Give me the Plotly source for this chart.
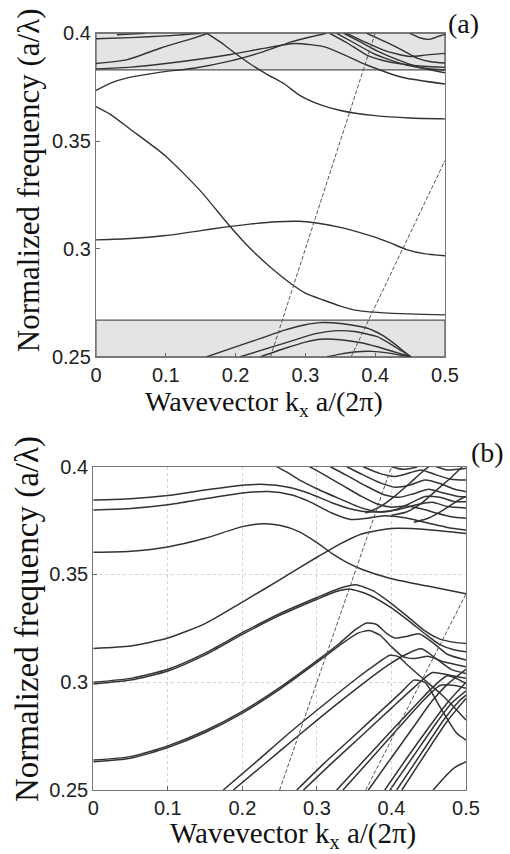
import plotly.graph_objects as go

# ---------------- Panel (a) data: normalized frequency vs wavevector ----------------
a_upper_band = [0.383, 0.400]   # shaded continuum (upper)
a_lower_band = [0.250, 0.267]   # shaded continuum (lower)

light_k = [0.25, 0.40]
light_f = [0.25, 0.40]
subs_k = [0.3655, 0.50]
subs_f = [0.25, 0.341]

a_A = [(0, 0.366), (0.02, 0.3625), (0.05, 0.3553), (0.1, 0.343), (0.15, 0.3268), (0.19, 0.3112),
       (0.22, 0.3005), (0.25, 0.2915), (0.278, 0.2842), (0.3, 0.2795), (0.3256, 0.2763),
       (0.35, 0.2735), (0.3735, 0.2715), (0.42, 0.2702), (0.5, 0.2694)]
a_B = [(0, 0.3042), (0.05, 0.3048), (0.1, 0.3062), (0.15, 0.3085), (0.182, 0.31), (0.22, 0.3115),
       (0.259, 0.3126), (0.29, 0.3128), (0.316, 0.312), (0.35, 0.31), (0.397, 0.3057),
       (0.42, 0.303), (0.445, 0.2997), (0.47, 0.2978), (0.5, 0.2968)]
a_C = [(0, 0.3735), (0.02, 0.3768), (0.045, 0.3793), (0.093, 0.382), (0.14, 0.3838), (0.193, 0.3872),
       (0.24, 0.3915), (0.28, 0.396), (0.31, 0.3985), (0.33, 0.4)]
a_D = [(0.159, 0.4), (0.178, 0.396), (0.195, 0.3918), (0.22, 0.386), (0.245, 0.381), (0.27, 0.3765),
       (0.292, 0.3712), (0.32, 0.367), (0.35, 0.3642), (0.4, 0.3618), (0.45, 0.3607), (0.5, 0.3603)]
a_E = [(0, 0.3835), (0.05, 0.3843), (0.1, 0.386), (0.193, 0.3902), (0.24, 0.393), (0.285, 0.3953),
       (0.33, 0.3935), (0.388, 0.3853), (0.44, 0.3795), (0.5, 0.3765)]
a_U1 = [(0, 0.386), (0.045, 0.3878), (0.093, 0.3932), (0.14, 0.3978), (0.16, 0.4)]
a_T1 = [(0, 0.3975), (0.05, 0.398), (0.1, 0.3988), (0.15, 0.4)]
a_T0 = [(0.03, 0.3993), (0.05, 0.3996), (0.07, 0.4)]
a_F1 = [(0.335, 0.4), (0.36, 0.3955), (0.388, 0.3899), (0.41, 0.3875), (0.436, 0.3858),
        (0.47, 0.3847), (0.5, 0.3842)]
a_F2 = [(0.345, 0.4), (0.37, 0.3955), (0.397, 0.3907), (0.42, 0.3878), (0.445, 0.3853),
        (0.47, 0.3838), (0.5, 0.383)]
a_F3 = [(0.355, 0.4), (0.38, 0.3958), (0.405, 0.3915), (0.43, 0.388), (0.46, 0.3845), (0.5, 0.3817)]
a_W1 = [(0.359, 0.4), (0.385, 0.396), (0.411, 0.3923), (0.43, 0.3905), (0.45, 0.3892),
        (0.474, 0.39), (0.5, 0.3907)]
a_W2 = [(0.388, 0.4), (0.415, 0.396), (0.44, 0.392), (0.46, 0.3885), (0.48, 0.3868), (0.5, 0.3862)]
a_W3 = [(0.45, 0.4), (0.465, 0.3978), (0.477, 0.3972), (0.49, 0.3985), (0.5, 0.3995)]
a_L1 = [(0.159, 0.25), (0.2, 0.2546), (0.236, 0.2585), (0.27, 0.2623), (0.3, 0.2648), (0.322, 0.2658),
        (0.35, 0.2654), (0.389, 0.2632), (0.41, 0.26), (0.427, 0.2562), (0.44, 0.2528), (0.451, 0.25)]
a_L2 = [(0.207, 0.25), (0.25, 0.2543), (0.284, 0.2577), (0.315, 0.2607), (0.341, 0.262),
        (0.37, 0.2617), (0.403, 0.2593), (0.425, 0.2553), (0.44, 0.2523), (0.451, 0.25)]
a_L3 = [(0.236, 0.25), (0.27, 0.2538), (0.3, 0.2568), (0.322, 0.2581), (0.35, 0.2579),
        (0.38, 0.2565), (0.403, 0.2546), (0.43, 0.252), (0.451, 0.25)]
a_L4 = [(0.331, 0.25), (0.35, 0.2512), (0.37, 0.2522), (0.395, 0.2525), (0.418, 0.2518),
        (0.435, 0.2508), (0.449, 0.25)]

# ---------------- Panel (b) data ----------------
b_B1 = [(0, 0.3845), (0.05, 0.3851), (0.1, 0.3866), (0.15, 0.3892), (0.2, 0.3914), (0.23, 0.3918),
        (0.26, 0.3906), (0.29, 0.3876), (0.32, 0.3833), (0.35, 0.38), (0.37, 0.379), (0.39, 0.3792),
        (0.41, 0.3802), (0.435, 0.3825), (0.455, 0.3835), (0.475, 0.3815), (0.5, 0.3808)]
b_B2 = [(0, 0.3799), (0.05, 0.3806), (0.1, 0.3823), (0.15, 0.3851), (0.2, 0.3878), (0.235, 0.3885),
        (0.265, 0.387), (0.29, 0.3838), (0.32, 0.3785), (0.345, 0.3755), (0.37, 0.3762),
        (0.39, 0.3773), (0.42, 0.3762), (0.45, 0.3738), (0.475, 0.3718), (0.5, 0.3706)]
b_M1 = [(0, 0.3603), (0.05, 0.3608), (0.1, 0.3628), (0.15, 0.3668), (0.2, 0.3722), (0.228, 0.3735),
        (0.25, 0.3728), (0.275, 0.37), (0.3, 0.3648), (0.32, 0.3598), (0.34, 0.3556), (0.36, 0.3524),
        (0.4, 0.348), (0.45, 0.3445), (0.5, 0.341)]
b_R1 = [(0, 0.3157), (0.05, 0.3168), (0.1, 0.3205), (0.15, 0.3272), (0.2, 0.3372), (0.25, 0.3475),
        (0.3, 0.358), (0.33, 0.364), (0.36, 0.3688), (0.4, 0.3713), (0.45, 0.3708), (0.5, 0.369)]
b_Ta = [(0.246, 0.4), (0.262, 0.397), (0.277, 0.3938), (0.3, 0.3898), (0.33, 0.3852), (0.355, 0.3815),
        (0.375, 0.3795), (0.39, 0.379), (0.405, 0.38), (0.425, 0.383), (0.445, 0.3862),
        (0.465, 0.3858), (0.485, 0.3838), (0.5, 0.3838)]
b_Tb = [(0.29, 0.4), (0.31, 0.3962), (0.335, 0.3912), (0.36, 0.3862), (0.38, 0.3828), (0.4, 0.3812),
        (0.42, 0.3818), (0.44, 0.3805), (0.46, 0.3785), (0.48, 0.3768), (0.5, 0.3761)]
b_Tc = [(0.318, 0.4), (0.34, 0.396), (0.365, 0.3912), (0.39, 0.387), (0.41, 0.3858), (0.43, 0.3875),
        (0.45, 0.3895), (0.47, 0.3878), (0.49, 0.3862), (0.5, 0.3861)]
b_Td = [(0.34, 0.4), (0.362, 0.3962), (0.385, 0.3925), (0.405, 0.3905), (0.425, 0.3915),
        (0.445, 0.3938), (0.465, 0.3922), (0.485, 0.3895), (0.5, 0.3884)]
b_Te = [(0.362, 0.4), (0.385, 0.3968), (0.405, 0.3955), (0.425, 0.3972), (0.44, 0.3985),
        (0.46, 0.3962), (0.48, 0.3942), (0.5, 0.3938)]
b_Tf = [(0.4, 0.4), (0.415, 0.3988), (0.43, 0.3995), (0.435, 0.4)]
b_Tg = [(0.46, 0.4), (0.475, 0.3985), (0.49, 0.3988), (0.5, 0.3993)]
b_Ua = [(0.365, 0.3785), (0.385, 0.3815), (0.405, 0.3865), (0.425, 0.3925), (0.44, 0.3972), (0.45, 0.4)]
b_Ub = [(0.4, 0.3775), (0.42, 0.379), (0.44, 0.383), (0.46, 0.389), (0.48, 0.395), (0.495, 0.4)]
b_Uc = [(0.43, 0.3742), (0.45, 0.3762), (0.47, 0.38), (0.49, 0.3845), (0.5, 0.3862)]
b_D1a = [(0, 0.3), (0.05, 0.3018), (0.1, 0.306), (0.15, 0.3135), (0.2, 0.323), (0.25, 0.3318),
         (0.3, 0.3393), (0.33, 0.3435), (0.352, 0.3452), (0.375, 0.3425), (0.4, 0.3365),
         (0.425, 0.3295), (0.445, 0.3238), (0.465, 0.32), (0.485, 0.3185), (0.5, 0.318)]
b_D1b = [(0, 0.2992), (0.05, 0.301), (0.1, 0.3052), (0.15, 0.3127), (0.2, 0.3222), (0.25, 0.331),
         (0.3, 0.3385), (0.325, 0.342), (0.345, 0.3432), (0.37, 0.3405), (0.4, 0.3345),
         (0.425, 0.328), (0.445, 0.3225), (0.465, 0.3175), (0.485, 0.315), (0.5, 0.3142)]
b_E1a = [(0, 0.2639), (0.05, 0.2655), (0.1, 0.2705), (0.15, 0.2775), (0.2, 0.2865), (0.25, 0.2975),
         (0.3, 0.31), (0.33, 0.318), (0.352, 0.3245), (0.367, 0.3275), (0.38, 0.3268), (0.393, 0.3228),
         (0.405, 0.3205), (0.42, 0.3212), (0.437, 0.3225), (0.455, 0.3185), (0.475, 0.313), (0.5, 0.3103)]
b_E1b = [(0, 0.2631), (0.05, 0.2647), (0.1, 0.2697), (0.15, 0.2767), (0.2, 0.2857), (0.25, 0.2967),
         (0.3, 0.3092), (0.33, 0.317), (0.355, 0.3228), (0.37, 0.324), (0.385, 0.3218), (0.4, 0.3165),
         (0.415, 0.312), (0.43, 0.311), (0.45, 0.312), (0.47, 0.3095), (0.5, 0.3072)]
b_F1 = [(0.1744, 0.25), (0.22, 0.2635), (0.264, 0.2768), (0.31, 0.2898), (0.355, 0.3022), (0.38, 0.3085),
        (0.398, 0.3125), (0.41, 0.3118), (0.42, 0.3085), (0.443, 0.3015), (0.465, 0.295),
        (0.483, 0.2888), (0.5, 0.2825)]
b_F2 = [(0.1878, 0.25), (0.23, 0.2622), (0.275, 0.2752), (0.32, 0.288), (0.365, 0.3002), (0.395, 0.3078),
        (0.42, 0.313), (0.44, 0.3155), (0.46, 0.311), (0.48, 0.306), (0.5, 0.3041)]
b_G1 = [(0.273, 0.25), (0.31, 0.2625), (0.35, 0.2752), (0.39, 0.288), (0.415, 0.296), (0.43, 0.301),
        (0.445, 0.3), (0.465, 0.2886), (0.4875, 0.2763), (0.5, 0.2732)]
b_G2 = [(0.282, 0.25), (0.32, 0.2625), (0.36, 0.2752), (0.4, 0.288), (0.43, 0.2975), (0.455, 0.3045),
        (0.475, 0.3035), (0.5, 0.3018)]
b_H1 = [(0.3265, 0.25), (0.36, 0.2625), (0.4, 0.2775), (0.43, 0.2885), (0.455, 0.2975), (0.475, 0.303),
        (0.5, 0.2995)]
b_H2 = [(0.335, 0.25), (0.37, 0.2635), (0.41, 0.279), (0.44, 0.2905), (0.465, 0.2985), (0.485, 0.2985),
        (0.5, 0.2972)]
b_P1 = [(0.369, 0.25), (0.4, 0.265), (0.43, 0.2795), (0.455, 0.2915), (0.475, 0.299), (0.5, 0.306)]
b_P2 = [(0.391, 0.25), (0.42, 0.2645), (0.45, 0.279), (0.475, 0.2905), (0.5, 0.3)]
b_P3 = [(0.398, 0.25), (0.43, 0.266), (0.46, 0.281), (0.48, 0.29), (0.5, 0.296)]
b_P4 = [(0.407, 0.25), (0.44, 0.267), (0.47, 0.2825), (0.49, 0.291), (0.5, 0.294)]
b_P5 = [(0.414, 0.25), (0.445, 0.2665), (0.475, 0.282), (0.5, 0.2925)]
b_Q = [(0.456, 0.25), (0.47, 0.2555), (0.485, 0.2605), (0.5, 0.2632)]

k_ticks = [0, 0.1, 0.2, 0.3, 0.4, 0.5]
k_labels = ["0", "0.1", "0.2", "0.3", "0.4", "0.5"]
f_ticks = [0.25, 0.3, 0.35, 0.4]
f_labels = ["0.25", "0.3", "0.35", "0.4"]

a_curves = [a_A, a_B, a_C, a_D, a_E, a_U1, a_T1, a_T0, a_F1, a_F2, a_F3, a_W1, a_W2, a_W3,
            a_L1, a_L2, a_L3, a_L4]
b_curves = [b_B1, b_B2, b_M1, b_R1, b_Ta, b_Tb, b_Tc, b_Td, b_Te, b_Tf, b_Tg, b_Ua, b_Ub, b_Uc,
            b_D1a, b_D1b, b_E1a, b_E1b, b_F1, b_F2, b_G1, b_G2, b_H1, b_H2,
            b_P1, b_P2, b_P3, b_P4, b_P5, b_Q]

LINE = "#333333"
fig = go.Figure()


def add_curve(pts, xa, ya, width):
    k = [p[0] for p in pts]
    f = [p[1] for p in pts]
    fig.add_trace(go.Scatter(x=k, y=f, mode="lines", xaxis=xa, yaxis=ya, showlegend=False,
                             hoverinfo="skip",
                             line=dict(color=LINE, width=width, shape="spline", smoothing=0.6)))


for c in a_curves:
    add_curve(c, "x", "y", 1.4)
for c in b_curves:
    add_curve(c, "x2", "y2", 1.5)

for xa, ya in (("x", "y"), ("x2", "y2")):
    fig.add_trace(go.Scatter(x=light_k, y=light_f, mode="lines", xaxis=xa, yaxis=ya, showlegend=False,
                             line=dict(color="#555", width=1, dash="4px,2px")))
    fig.add_trace(go.Scatter(x=subs_k, y=subs_f, mode="lines", xaxis=xa, yaxis=ya, showlegend=False,
                             line=dict(color="#555", width=1, dash="4px,2px")))

shapes = []
for band in (a_upper_band, a_lower_band):
    shapes.append(dict(type="rect", xref="x", yref="y", x0=0, x1=0.5, y0=band[0], y1=band[1],
                       fillcolor="#e4e4e4", line=dict(color="#555", width=1.2), layer="below"))

tickfont = dict(family="Liberation Sans, Arial, sans-serif", size=20, color="#222")
common_x = dict(range=[0, 0.5], tickvals=k_ticks, ticktext=k_labels, ticks="inside", ticklen=4,
                tickcolor="#666", showline=True, linecolor="#777", linewidth=1.2, mirror=True,
                zeroline=False, tickfont=tickfont, automargin=False)
common_y = dict(range=[0.25, 0.4], tickvals=f_ticks, ticktext=f_labels, ticks="inside", ticklen=4,
                tickcolor="#666", showline=True, linecolor="#777", linewidth=1.2, mirror=True,
                zeroline=False, tickfont=tickfont, automargin=False)

fig.update_layout(
    template="none",
    width=510, height=854, autosize=False,
    margin=dict(l=0, r=0, t=0, b=0, pad=0),
    paper_bgcolor="white", plot_bgcolor="white",
    xaxis=dict(domain=[0.1882, 0.8725], anchor="y", showgrid=False, **common_x),
    yaxis=dict(domain=[0.5823, 0.961], anchor="x", showgrid=False, **common_y),
    xaxis2=dict(domain=[0.1829, 0.9137], anchor="y2", showgrid=True, gridcolor="#d2d2d2",
                griddash="dot", gridwidth=1, **common_x),
    yaxis2=dict(domain=[0.0749, 0.4535], anchor="x2", showgrid=True, gridcolor="#d2d2d2",
                griddash="dot", gridwidth=1, **common_y),
    shapes=shapes,
)

serif = "Liberation Serif, Times New Roman, serif"
ann = [
    dict(text="Normalized frequency (a/λ)", x=0.055, y=0.789, textangle=-90, font=dict(family=serif, size=31)),
    dict(text="Normalized frequency (a/λ)", x=0.055, y=0.2752, textangle=-90, font=dict(family=serif, size=33)),
    dict(text="Wavevector k<sub>x</sub> a/(2π)", x=0.5176, y=0.528, font=dict(family=serif, size=28)),
    dict(text="Wavevector k<sub>x</sub> a/(2π)", x=0.5745, y=0.0225, font=dict(family=serif, size=29)),
    dict(text="(a)", x=0.908, y=0.973, font=dict(family=serif, size=28)),
    dict(text="(b)", x=0.955, y=0.4707, font=dict(family=serif, size=28)),
]
for a in ann:
    a.update(xref="paper", yref="paper", showarrow=False, xanchor="center", yanchor="middle")
    a["font"]["color"] = "#111"
fig.update_layout(annotations=ann)

fig.write_html("out.html")
